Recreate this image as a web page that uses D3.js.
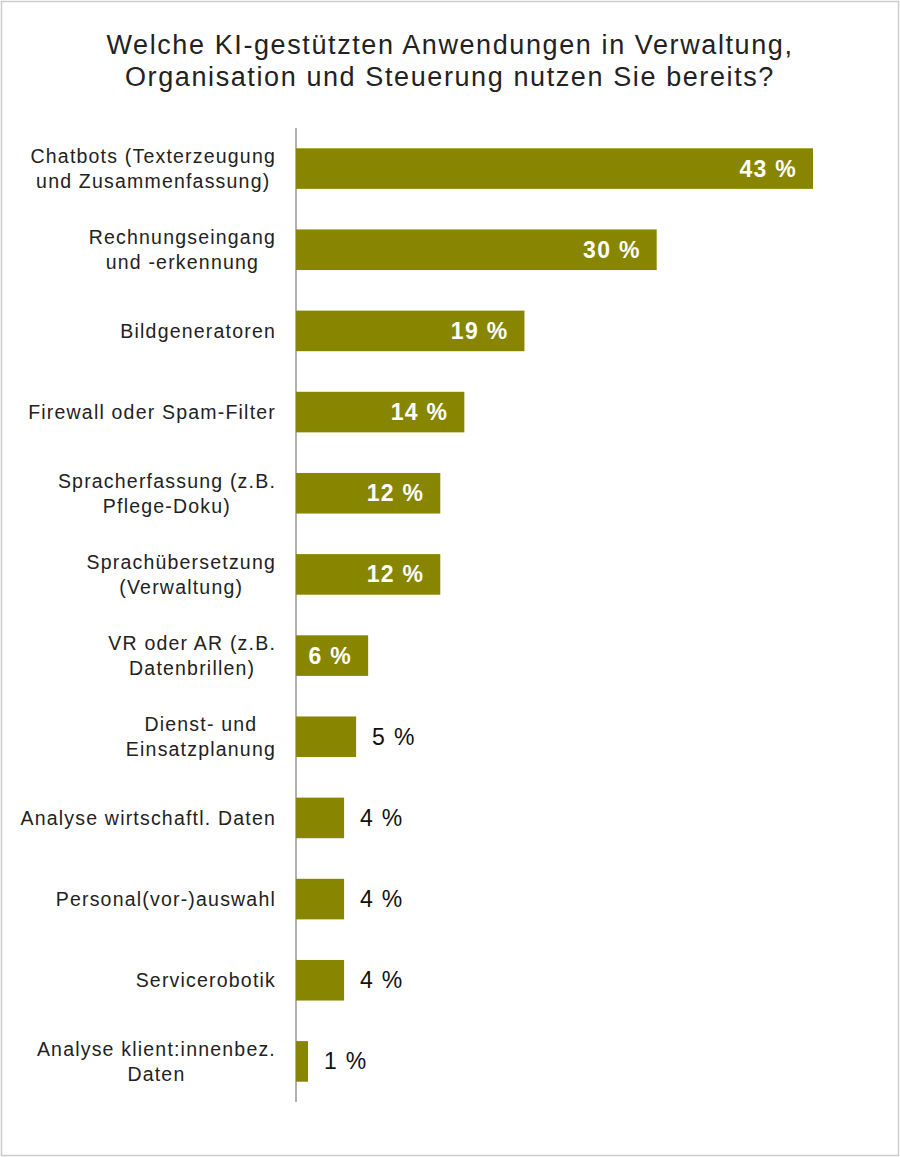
<!DOCTYPE html>
<html><head><meta charset="utf-8">
<script src="https://cdn.jsdelivr.net/npm/d3@7"></script>
<style>body{margin:0;background:#fff;font-family:"Liberation Sans",Arial,sans-serif}</style>
</head><body><svg id="c" width="900" height="1157"></svg>
<script>
const categories=[["Chatbots (Texterzeugung","und Zusammenfassung)"],["Rechnungseingang","und -erkennung"],["Bildgeneratoren"],["Firewall oder Spam-Filter"],["Spracherfassung (z.B.","Pflege-Doku)"],["Sprachübersetzung","(Verwaltung)"],["VR oder AR (z.B.","Datenbrillen)"],["Dienst- und","Einsatzplanung"],["Analyse wirtschaftl. Daten"],["Personal(vor-)auswahl"],["Servicerobotik"],["Analyse klient:innenbez.","Daten"]];
const values=[43,30,19,14,12,12,6,5,4,4,4,1];
const title=["Welche KI-gestützten Anwendungen in Verwaltung,","Organisation und Steuerung nutzen Sie bereits?"];
const svg=d3.select("#c");
svg.append("rect").attr("x",1.5).attr("y",1.5).attr("width",897).attr("height",1154).attr("fill","#fff").attr("stroke","#ccc").attr("stroke-width",1.5);
svg.append("text").attr("x",450).attr("text-anchor","middle").attr("font-size",27).attr("letter-spacing",1.6).attr("fill","#222")
 .selectAll("tspan").data(title).join("tspan").attr("x",450).attr("y",(d,i)=>54+i*32).text(d=>d);
const x=d3.scaleLinear().domain([0,43]).range([296,813]);
const y=d3.scaleBand().domain(d3.range(values.length)).range([128,1102]).paddingInner(0.5).paddingOuter(0.25);
svg.append("line").attr("x1",296).attr("x2",296).attr("y1",128).attr("y2",1102).attr("stroke","#999").attr("stroke-width",1.5);
const g=svg.selectAll("g.b").data(values).join("g");
g.append("rect").attr("x",x(0)).attr("y",(d,i)=>y(i)).attr("width",d=>x(d)-x(0)).attr("height",y.bandwidth()).attr("fill","#888600");
g.append("text").attr("y",(d,i)=>y(i)+y.bandwidth()/2+8).attr("font-size",23).attr("letter-spacing",1.3)
 .attr("x",d=>d>=6?x(d)-16:x(d)+16).attr("text-anchor",d=>d>=6?"end":"start")
 .attr("fill",d=>d>=6?"#fff":"#111").attr("font-weight",d=>d>=6?"bold":"normal").text(d=>d+" %");
categories.forEach((c,i)=>{
 const cy=y(i)+y.bandwidth()/2; const t=svg.append("text").attr("text-anchor","middle").attr("font-size",19.5).attr("letter-spacing",1.2).attr("fill","#222");
 const ts=c.map((l,j)=>t.append("tspan").attr("y",cy+7+(j-(c.length-1)/2)*25).text(l));
 const w=d3.max(ts,s=>s.node().getComputedTextLength());
 ts.forEach(s=>s.attr("x",276-w/2));
});
</script></body></html>
